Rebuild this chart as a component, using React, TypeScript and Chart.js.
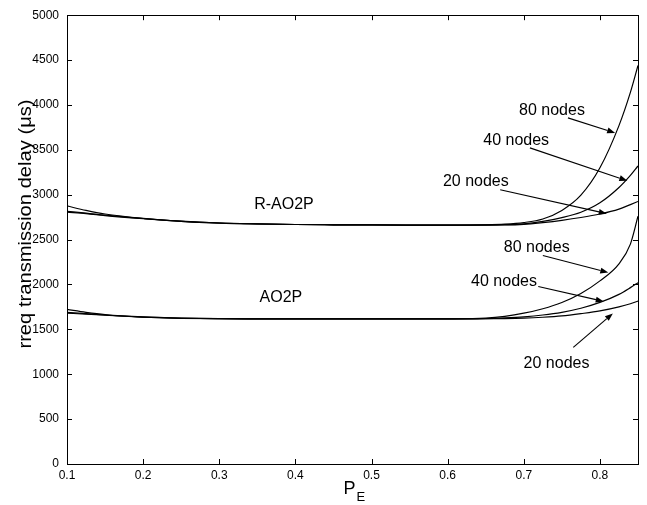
import React, { useEffect, useRef } from "react";
import { Chart, registerables } from "chart.js";

Chart.register(...registerables);

// P_E sample positions
const peValues = [0.1, 0.125, 0.15, 0.2, 0.25, 0.3, 0.35, 0.4, 0.45, 0.5, 0.55, 0.6, 0.65, 0.675, 0.7, 0.725, 0.75, 0.775, 0.8, 0.825, 0.84, 0.85];

// R-AO2P delays (us)
const rao2p80 = [2875, 2825, 2785, 2737, 2705, 2685, 2675, 2668, 2665, 2663, 2662, 2662, 2665, 2672, 2690, 2730, 2825, 2995, 3300, 3770, 4140, 4440];
const rao2p40 = [2815, 2795, 2772, 2735, 2704, 2685, 2675, 2668, 2665, 2663, 2662, 2662, 2663, 2666, 2675, 2703, 2745, 2805, 2910, 3080, 3215, 3320];
const rao2p20 = [2805, 2790, 2768, 2733, 2703, 2684, 2674, 2668, 2665, 2663, 2662, 2662, 2662, 2663, 2670, 2690, 2715, 2746, 2785, 2840, 2890, 2925];

// AO2P delays (us)
const ao2p80 = [1722, 1690, 1665, 1638, 1625, 1619, 1617, 1616, 1616, 1616, 1616, 1617, 1625, 1645, 1680, 1730, 1800, 1900, 2040, 2230, 2450, 2760];
const ao2p40 = [1690, 1675, 1660, 1636, 1624, 1619, 1617, 1616, 1616, 1616, 1616, 1616, 1620, 1628, 1640, 1660, 1690, 1735, 1800, 1890, 1965, 2020];
const ao2p20 = [1680, 1670, 1657, 1635, 1623, 1618, 1617, 1616, 1616, 1616, 1616, 1616, 1618, 1620, 1625, 1635, 1650, 1675, 1705, 1750, 1785, 1815];

// axis ticks
const xTicks = [0.1, 0.2, 0.3, 0.4, 0.5, 0.6, 0.7, 0.8];
const yTicks = [0, 500, 1000, 1500, 2000, 2500, 3000, 3500, 4000, 4500, 5000];

const xTitleMain = "P";
const xTitleSub = "E";
const yTitle = "rreq transmission delay (\u03bcs)";

// group labels (data coordinates)
const groupLabels = [
  { text: "R-AO2P", x: 0.385, y: 2889 },
  { text: "AO2P", x: 0.381, y: 1856 },
];

// node-count annotations with arrows (data coordinates)
const nodeNotes = [
  { text: "80 nodes", x: 0.737, y: 3933, fx: 0.758, fy: 3856, tx: 0.820, ty: 3689 },
  { text: "40 nodes", x: 0.690, y: 3600, fx: 0.708, fy: 3522, tx: 0.836, ty: 3156 },
  { text: "20 nodes", x: 0.637, y: 3148, fx: 0.669, fy: 3056, tx: 0.809, ty: 2789 },
  { text: "80 nodes", x: 0.717, y: 2411, fx: 0.725, fy: 2322, tx: 0.811, ty: 2133 },
  { text: "40 nodes", x: 0.674, y: 2033, fx: 0.719, fy: 1978, tx: 0.805, ty: 1811 },
  { text: "20 nodes", x: 0.743, y: 1122, fx: 0.765, fy: 1300, tx: 0.817, ty: 1678 },
];

const FONT = "'Liberation Sans', Arial, Helvetica, sans-serif";

const mk = (vals: number[]) => peValues.map((x, i) => ({ x, y: vals[i] }));

const decorPlugin = {
  id: "matlabDecor",
  afterDraw(chart: any) {
    const { ctx, chartArea, scales } = chart;
    const { left, right, top, bottom } = chartArea;
    const xs = scales.x;
    const ys = scales.y;
    ctx.save();
    ctx.strokeStyle = "#000";
    ctx.fillStyle = "#000";
    ctx.lineWidth = 1;
    // box
    ctx.strokeRect(Math.round(left) + 0.5, Math.round(top) + 0.5, Math.round(right - left), Math.round(bottom - top));
    // inward ticks
    const tl = 5;
    ctx.beginPath();
    yTicks.forEach((v) => {
      const py = Math.round(ys.getPixelForValue(v)) + 0.5;
      ctx.moveTo(left, py);
      ctx.lineTo(left + tl, py);
      ctx.moveTo(right, py);
      ctx.lineTo(right - tl, py);
    });
    xTicks.forEach((v) => {
      const px = Math.round(xs.getPixelForValue(v)) + 0.5;
      ctx.moveTo(px, bottom);
      ctx.lineTo(px, bottom - tl);
      ctx.moveTo(px, top);
      ctx.lineTo(px, top + tl);
    });
    ctx.stroke();

    // group labels
    ctx.font = `16px ${FONT}`;
    ctx.textAlign = "center";
    ctx.textBaseline = "middle";
    groupLabels.forEach((g) => {
      ctx.fillText(g.text, xs.getPixelForValue(g.x), ys.getPixelForValue(g.y));
    });

    // notes + arrows
    nodeNotes.forEach((n) => {
      ctx.font = `16px ${FONT}`;
      ctx.fillText(n.text, xs.getPixelForValue(n.x), ys.getPixelForValue(n.y));
      const x1 = xs.getPixelForValue(n.fx);
      const y1 = ys.getPixelForValue(n.fy);
      const x2 = xs.getPixelForValue(n.tx);
      const y2 = ys.getPixelForValue(n.ty);
      const ang = Math.atan2(y2 - y1, x2 - x1);
      const hl = 8;
      const hw = 3;
      const bx = x2 - hl * Math.cos(ang);
      const by = y2 - hl * Math.sin(ang);
      ctx.lineWidth = 1.1;
      ctx.beginPath();
      ctx.moveTo(x1, y1);
      ctx.lineTo(bx, by);
      ctx.stroke();
      ctx.beginPath();
      ctx.moveTo(x2, y2);
      ctx.lineTo(bx + hw * Math.sin(ang), by - hw * Math.cos(ang));
      ctx.lineTo(bx - hw * Math.sin(ang), by + hw * Math.cos(ang));
      ctx.closePath();
      ctx.fill();
    });

    // x title with subscript
    const cx = (left + right) / 2;
    ctx.textBaseline = "alphabetic";
    ctx.textAlign = "left";
    ctx.font = `18px ${FONT}`;
    const pw = ctx.measureText(xTitleMain).width;
    ctx.fillText(xTitleMain, cx - pw / 2 - 3, 494);
    ctx.font = `13px ${FONT}`;
    ctx.fillText(xTitleSub, cx + pw / 2 - 2, 501);

    // y title
    ctx.save();
    ctx.translate(26, 224);
    ctx.rotate(-Math.PI / 2);
    ctx.font = `18px ${FONT}`;
    ctx.textAlign = "center";
    ctx.textBaseline = "middle";
    ctx.scale(1.12, 1);
    ctx.fillText(yTitle, 0, 0);
    ctx.restore();

    ctx.restore();
  },
};

export default function App() {
  const canvasRef = useRef<HTMLCanvasElement | null>(null);

  useEffect(() => {
    if (!canvasRef.current) return;
    const lineDs = (label: string, vals: number[]) => ({
      label,
      data: mk(vals),
      borderColor: "#000",
      borderWidth: 1.2,
      pointRadius: 0,
      fill: false,
      cubicInterpolationMode: "monotone" as const,
    });
    const chart = new Chart(canvasRef.current, {
      type: "line",
      data: {
        datasets: [
          lineDs("R-AO2P 80 nodes", rao2p80),
          lineDs("R-AO2P 40 nodes", rao2p40),
          lineDs("R-AO2P 20 nodes", rao2p20),
          lineDs("AO2P 80 nodes", ao2p80),
          lineDs("AO2P 40 nodes", ao2p40),
          lineDs("AO2P 20 nodes", ao2p20),
        ],
      },
      options: {
        animation: false,
        responsive: true,
        maintainAspectRatio: false,
        layout: { padding: { left: 0, right: 9, top: 14, bottom: 0 } },
        plugins: {
          legend: { display: false },
          tooltip: { enabled: false },
          title: { display: false },
        },
        scales: {
          x: {
            type: "linear",
            min: 0.1,
            max: 0.85,
            afterBuildTicks: (scale: any) => {
              scale.ticks = xTicks.map((v) => ({ value: v }));
            },
            afterFit: (scale: any) => {
              scale.height = 41;
            },
            grid: { display: false, drawTicks: false },
            border: { display: false },
            ticks: {
              color: "#000",
              font: { family: FONT, size: 12 },
              padding: 4,
              maxRotation: 0,
              autoSkip: false,
              callback: (v: any) => String(Math.round(Number(v) * 10) / 10),
            },
          },
          y: {
            type: "linear",
            min: 0,
            max: 5000,
            afterBuildTicks: (scale: any) => {
              scale.ticks = yTicks.map((v) => ({ value: v }));
            },
            afterFit: (scale: any) => {
              scale.width = 67;
            },
            grid: { display: false, drawTicks: false },
            border: { display: false },
            ticks: {
              color: "#000",
              font: { family: FONT, size: 12 },
              padding: 8,
              autoSkip: false,
              callback: (v: any) => String(v),
            },
          },
        },
      },
      plugins: [decorPlugin],
    });
    return () => chart.destroy();
  }, []);

  return (
    <div style={{ position: "absolute", left: 0, top: 0, width: 647, height: 505, background: "#fff" }}>
      <canvas ref={canvasRef} />
    </div>
  );
}
